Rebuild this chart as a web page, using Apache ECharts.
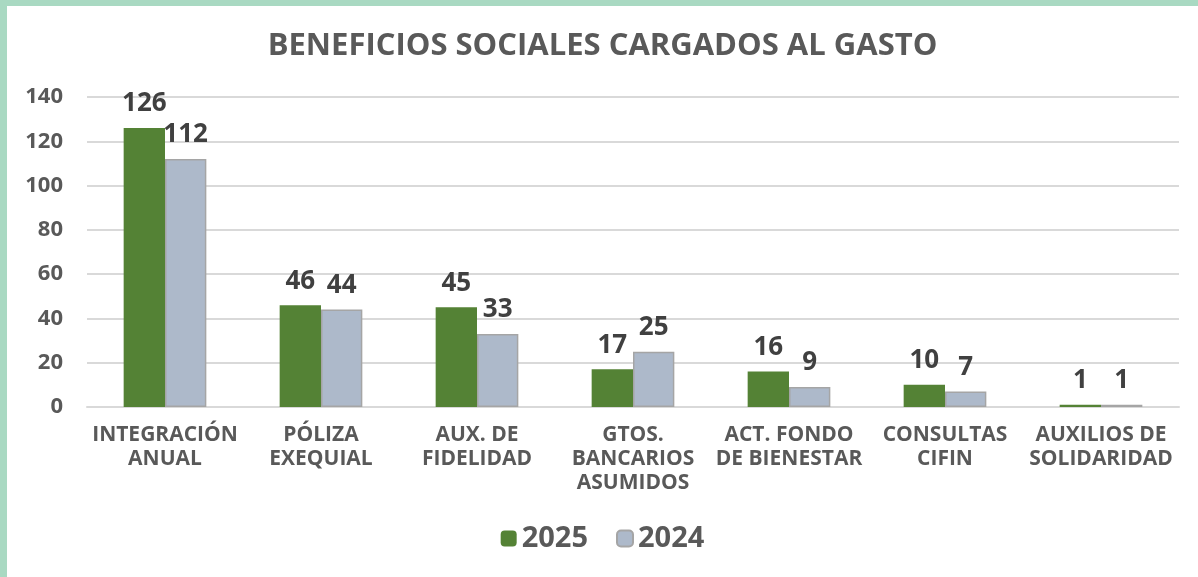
<!DOCTYPE html>
<html>
<head>
<meta charset="utf-8">
<script src="https://cdn.jsdelivr.net/npm/echarts@6/dist/echarts.min.js"></script>
<style>
  html, body { margin: 0; padding: 0; width: 1198px; height: 577px; background: #a9d9c2; overflow: hidden; }
  .panel { position: absolute; left: 7px; top: 6px; width: 1191px; height: 571px; background: #fff; }
  #chart { width: 1191px; height: 571px; }
</style>
</head>
<body>
<div class="panel"><div id="chart"></div></div>
<script>
const categories = [
  'INTEGRACIÓN\nANUAL',
  'PÓLIZA\nEXEQUIAL',
  'AUX. DE\nFIDELIDAD',
  'GTOS.\nBANCARIOS\nASUMIDOS',
  'ACT. FONDO\nDE BIENESTAR',
  'CONSULTAS\nCIFIN',
  'AUXILIOS DE\nSOLIDARIDAD'
]
const values2025 = [126, 46, 45, 17, 16, 10, 1]
const values2024 = [112, 44, 33, 25, 9, 7, 1]

const FONT = '"Open Sans", "Noto Sans", sans-serif'

const chart = echarts.init(document.getElementById('chart'))

const labelStyle = {
  show: true,
  position: 'top',
  distance: 11,
  fontFamily: FONT,
  fontWeight: 'bold',
  fontSize: 26,
  color: '#404040'
}

chart.setOption({
  animation: false,
  title: {
    text: 'BENEFICIOS SOCIALES CARGADOS AL GASTO',
    left: 'center',
    top: 20,
    textStyle: { fontFamily: FONT, fontWeight: 'bold', fontSize: 31, color: '#595959' }
  },
  legend: {
    bottom: 19,
    left: 'center',
    itemWidth: 16,
    itemHeight: 16,
    itemGap: 28,
    textStyle: { fontFamily: FONT, fontWeight: 'bold', fontSize: 29, color: '#595959' },
    data: ['2025', '2024']
  },
  grid: { left: 80, right: 19, top: 91, bottom: 170, containLabel: false },
  xAxis: {
    type: 'category',
    data: categories,
    axisLine: { lineStyle: { color: '#d9d9d9', width: 2 } },
    axisTick: { show: false },
    axisLabel: {
      interval: 0,
      margin: 16,
      fontFamily: FONT,
      fontWeight: 'bold',
      fontSize: 21,
      lineHeight: 24,
      color: '#595959'
    }
  },
  yAxis: {
    type: 'value',
    min: 0,
    max: 140,
    interval: 20,
    axisLine: { show: false },
    axisTick: { show: false },
    splitLine: { lineStyle: { color: '#d9d9d9', width: 2 } },
    axisLabel: { margin: 24, fontFamily: FONT, fontWeight: 'bold', fontSize: 22, color: '#595959' }
  },
  series: [
    {
      name: '2025',
      type: 'bar',
      data: values2025,
      barGap: '0%',
      barCategoryGap: '47%',
      itemStyle: { color: '#548235' },
      label: labelStyle
    },
    {
      name: '2024',
      type: 'bar',
      data: values2024,
      itemStyle: { color: '#adb9ca', borderColor: '#a5a5a5', borderWidth: 1.5 },
      label: labelStyle
    }
  ]
})
</script>
</body>
</html>
